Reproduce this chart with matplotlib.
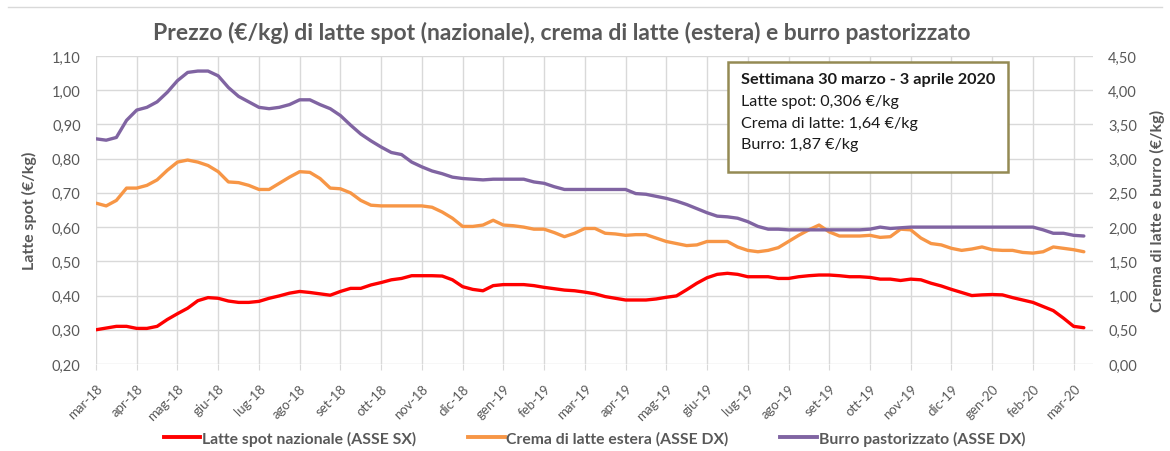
#!/usr/bin/env python3
"""Prezzo settimanale di latte spot, crema di latte e burro (mar-18 / mar-20)."""
import matplotlib

matplotlib.use("Agg")
import matplotlib.pyplot as plt
from matplotlib.lines import Line2D
from matplotlib.patches import Rectangle
from matplotlib.ticker import FuncFormatter, MultipleLocator

FONT = ["Lato", "DejaVu Sans"]
GREY_TEXT = "#595959"
GRID = "#d9d9d9"

TITLE = "Prezzo (€/kg) di latte spot (nazionale), crema di latte (estera) e burro pastorizzato"
MONTH_LABELS = [
    "mar-18", "apr-18", "mag-18", "giu-18", "lug-18", "ago-18", "set-18", "ott-18", "nov-18",
    "dic-18", "gen-19", "feb-19", "mar-19", "apr-19", "mag-19", "giu-19", "lug-19", "ago-19",
    "set-19", "ott-19", "nov-19", "dic-19", "gen-20", "feb-20", "mar-20",
]
WEEKS_PER_LABEL = 4

# weekly prices
latte_spot = [
    0.300, 0.305, 0.310, 0.310, 0.304, 0.304, 0.310, 0.330, 0.347, 0.363,
    0.385, 0.394, 0.392, 0.384, 0.380, 0.380, 0.383, 0.392, 0.399, 0.407,
    0.412, 0.409, 0.405, 0.401, 0.412, 0.421, 0.421, 0.431, 0.438, 0.446,
    0.450, 0.458, 0.458, 0.458, 0.457, 0.446, 0.426, 0.418, 0.414, 0.429,
    0.432, 0.432, 0.432, 0.429, 0.424, 0.420, 0.416, 0.414, 0.410, 0.405,
    0.397, 0.392, 0.387, 0.387, 0.387, 0.390, 0.395, 0.399, 0.417, 0.436,
    0.452, 0.462, 0.465, 0.462, 0.455, 0.455, 0.455, 0.450, 0.450, 0.455,
    0.458, 0.460, 0.460, 0.458, 0.455, 0.455, 0.453, 0.448, 0.448, 0.444,
    0.448, 0.446, 0.436, 0.428, 0.418, 0.409, 0.400, 0.402, 0.403, 0.402,
    0.394, 0.387, 0.380, 0.368, 0.356, 0.334, 0.310, 0.306,
]
crema_latte = [
    2.35, 2.31, 2.39, 2.57, 2.57, 2.61, 2.69, 2.83, 2.95, 2.98,
    2.95, 2.90, 2.81, 2.66, 2.65, 2.61, 2.55, 2.55, 2.64, 2.73,
    2.81, 2.80, 2.71, 2.57, 2.56, 2.50, 2.39, 2.32, 2.31, 2.31,
    2.31, 2.31, 2.31, 2.29, 2.22, 2.13, 2.01, 2.01, 2.03, 2.10,
    2.03, 2.02, 2.00, 1.97, 1.97, 1.92, 1.86, 1.91, 1.98, 1.98,
    1.91, 1.90, 1.88, 1.89, 1.89, 1.84, 1.79, 1.76, 1.73, 1.74,
    1.79, 1.79, 1.79, 1.71, 1.66, 1.64, 1.66, 1.70, 1.79, 1.88,
    1.96, 2.03, 1.93, 1.87, 1.87, 1.87, 1.88, 1.85, 1.86, 1.97,
    1.96, 1.84, 1.76, 1.74, 1.69, 1.66, 1.68, 1.71, 1.67, 1.66,
    1.66, 1.63, 1.62, 1.64, 1.71, 1.69, 1.67, 1.64,
]
burro = [
    3.29, 3.27, 3.31, 3.56, 3.71, 3.75, 3.83, 3.97, 4.14, 4.26,
    4.28, 4.28, 4.21, 4.04, 3.91, 3.83, 3.75, 3.73, 3.75, 3.79,
    3.86, 3.86, 3.79, 3.73, 3.63, 3.49, 3.36, 3.26, 3.17, 3.09,
    3.06, 2.95, 2.88, 2.82, 2.78, 2.73, 2.71, 2.70, 2.69, 2.70,
    2.70, 2.70, 2.70, 2.66, 2.64, 2.59, 2.55, 2.55, 2.55, 2.55,
    2.55, 2.55, 2.55, 2.49, 2.48, 2.45, 2.42, 2.38, 2.33, 2.27,
    2.21, 2.16, 2.15, 2.13, 2.08, 2.01, 1.97, 1.97, 1.96, 1.96,
    1.96, 1.96, 1.96, 1.96, 1.96, 1.96, 1.97, 2.00, 1.98, 1.99,
    2.00, 2.00, 2.00, 2.00, 2.00, 2.00, 2.00, 2.00, 2.00, 2.00,
    2.00, 2.00, 2.00, 1.96, 1.91, 1.91, 1.88, 1.87,
]

BOX_TITLE = "Settimana 30 marzo - 3 aprile 2020"
BOX_LINES = ["Latte spot: 0,306 €/kg", "Crema di latte: 1,64 €/kg", "Burro: 1,87 €/kg"]
LEGEND_LABELS = [
    "Latte spot nazionale (ASSE SX)",
    "Crema di latte estera (ASSE DX)",
    "Burro pastorizzato (ASSE DX)",
]
COLORS = ["#ff0000", "#f79646", "#8064a2"]


def comma_fmt(value, _pos):
    return f"{value:.2f}".replace(".", ",")


plt.rcParams["font.family"] = FONT

fig = plt.figure(figsize=(11.7, 4.52), dpi=100)
ax = fig.add_axes((96 / 1170, 1 - 365 / 452, 997 / 1170, 308 / 452))
ax2 = ax.twinx()

weeks = list(range(len(latte_spot)))
line_kw = dict(lw=2.4, solid_capstyle="round", solid_joinstyle="round")
ax.plot(weeks, latte_spot, color=COLORS[0], zorder=3, **line_kw)
ax2.plot(weeks, crema_latte, color=COLORS[1], zorder=3, **line_kw)
ax2.plot(weeks, burro, color=COLORS[2], zorder=4, **line_kw)

ax.set_xlim(0, 97.9)
ax.set_ylim(0.20, 1.10)
ax2.set_ylim(0.0, 4.5)
ax.yaxis.set_major_locator(MultipleLocator(0.10))
ax2.yaxis.set_major_locator(MultipleLocator(0.50))
ax.yaxis.set_major_formatter(FuncFormatter(comma_fmt))
ax2.yaxis.set_major_formatter(FuncFormatter(comma_fmt))

tick_pos = [k * WEEKS_PER_LABEL for k in range(len(MONTH_LABELS))]
ax.set_xticks(tick_pos)
ax.set_xticklabels(MONTH_LABELS, rotation=45, ha="right", rotation_mode="anchor")

ax.grid(True, color=GRID, lw=1.0)
ax.set_axisbelow(True)
for a in (ax, ax2):
    for s in a.spines.values():
        s.set_visible(False)

ax.tick_params(axis="x", length=4, color=GRID, pad=9, labelsize=9.5, labelcolor=GREY_TEXT)
ax.tick_params(axis="y", length=0, pad=11, labelsize=10.5, labelcolor=GREY_TEXT)
ax2.tick_params(axis="y", length=0, pad=11, labelsize=10.5, labelcolor=GREY_TEXT)

fig.text(562 / 1170, 1 - 33 / 452, TITLE, ha="center", va="center", fontsize=16.5,
         fontweight="bold", color=GREY_TEXT)
fig.text(29 / 1170, 1 - 211 / 452, "Latte spot (€/kg)", rotation=90, ha="center", va="center",
         fontsize=11.5, fontweight="bold", color=GREY_TEXT)
fig.text(1157 / 1170, 1 - 211 / 452, "Crema di latte e burro (€/kg)", rotation=90, ha="center",
         va="center", fontsize=11.5, fontweight="bold", color=GREY_TEXT)

# thin frame line along the top of the chart area
fig.add_artist(Line2D([8 / 1170, 1162 / 1170], [1 - 8 / 452, 1 - 8 / 452], color=GRID, lw=1.0))

# info box
box = Rectangle((0.634, 0.623), 0.281, 0.358, transform=ax2.transAxes, facecolor="white",
                edgecolor="#948a54", lw=1.8, zorder=10)
ax2.add_patch(box)
ax2.text(0.647, 0.925, BOX_TITLE, transform=ax2.transAxes, ha="left", va="center",
         fontsize=11.7, fontweight="bold", color="#1a1a1a", zorder=11)
for k, line in enumerate(BOX_LINES):
    ax2.text(0.647, 0.854 - k * 0.07, line, transform=ax2.transAxes, ha="left", va="center",
             fontsize=11.6, color="#1a1a1a", zorder=11)

handles = [Line2D([], [], color=c, lw=2.8) for c in COLORS]
fig.legend(handles, LEGEND_LABELS, loc="center", bbox_to_anchor=(594.5 / 1170, 1 - 439 / 452),
           ncol=3, frameon=False, handlelength=2.35, handletextpad=0.1, columnspacing=3.3,
           prop={"family": FONT, "size": 11.3, "weight": "bold"}, labelcolor=GREY_TEXT)

fig.savefig("out.png", dpi=100, facecolor="white")
